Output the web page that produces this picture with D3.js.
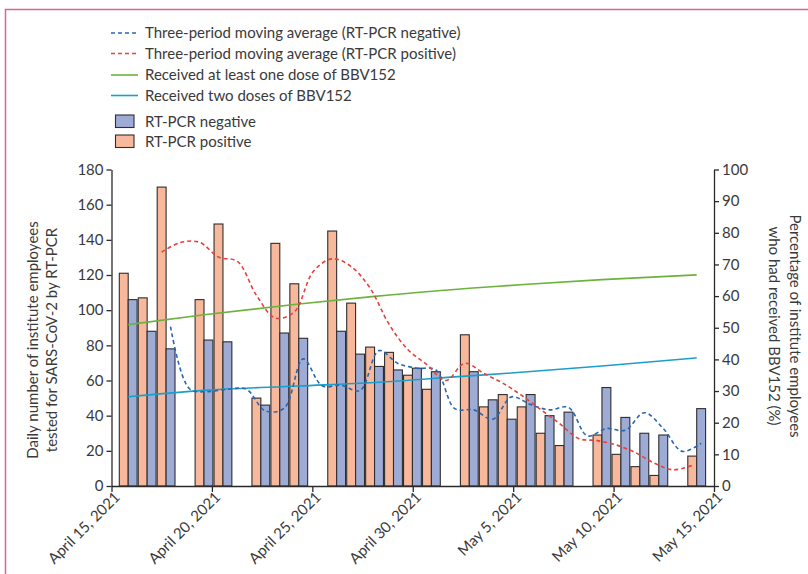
<!DOCTYPE html>
<html><head><meta charset="utf-8">
<script src="https://cdn.jsdelivr.net/npm/d3@7/dist/d3.min.js"></script>
<style>
body{margin:0;background:#fff}
svg text{font-family:Lato,"Open Sans",sans-serif;fill:#3a3a3a}
</style>
</head><body>
<svg id="chart" width="808" height="574"></svg>
<script>
// ---------- data ----------
const dates = ["2021-04-15","2021-04-16","2021-04-17","2021-04-18","2021-04-19","2021-04-20","2021-04-21",
  "2021-04-22","2021-04-23","2021-04-24","2021-04-25","2021-04-26","2021-04-27","2021-04-28","2021-04-29",
  "2021-04-30","2021-05-01","2021-05-02","2021-05-03","2021-05-04","2021-05-05","2021-05-06","2021-05-07",
  "2021-05-08","2021-05-09","2021-05-10","2021-05-11","2021-05-12","2021-05-13","2021-05-14","2021-05-15"];
const negative = [106,88,78,null,83,82,null,46,87,84,null,88,75,68,66,67,65,null,65,49,38,52,40,42,null,56,39,30,29,null,44];
const positive = [121,107,170,null,106,149,null,50,138,115,null,145,104,79,76,63,55,null,86,45,52,45,30,23,null,29,18,11,6,null,17];
// three-period moving averages (from April 17 on)
const maDates = dates.slice(2);
const maNegative = [90.7,55.3,53.7,55,55,42.7,44.3,72.3,57,57.3,54.3,77,69.7,67,66,44,43.3,38,50.7,46.3,43.3,44.7,28.5,32.7,31.7,41.7,32.7,19.7,24.3];
const maPositive = [133,138.5,138.6,130.2,127.7,108.5,95.5,99,122,129.2,124.8,112.5,92,77.5,69,60,69.8,64,58.5,51.5,43.5,35.5,27,25.8,23.3,19,13,9.2,11.8];
// vaccination coverage (%)
const vaxDates = ["2021-04-15","2021-04-19","2021-04-24","2021-04-28","2021-05-03","2021-05-05","2021-05-10","2021-05-15"];
const atLeastOneDose = [51,54.1,57.5,59.9,62.5,63.3,65.2,66.7];
const twoDoses = [28.2,30.2,31.6,32.7,34.8,35.6,37.9,40.5];
const leftTicks = [0,20,40,60,80,100,120,140,160,180];
const rightTicks = [0,10,20,30,40,50,60,70,80,90,100];
const xTickDates = ["2021-04-15","2021-04-20","2021-04-25","2021-04-30","2021-05-05","2021-05-10","2021-05-15"];
const xTickLabels = ["April 15, 2021","April 20, 2021","April 25, 2021","April 30, 2021","May 5, 2021","May 10, 2021","May 15, 2021"];
const legendItems = [
  {label:"Three-period moving average (RT-PCR negative)", type:"dash", color:"#2a66b0"},
  {label:"Three-period moving average (RT-PCR positive)", type:"dash", color:"#e8403a"},
  {label:"Received at least one dose of BBV152", type:"line", color:"#6cb23c"},
  {label:"Received two doses of BBV152", type:"line", color:"#1b9fc9"},
  {label:"RT-PCR negative", type:"box", color:"#9eabd4"},
  {label:"RT-PCR positive", type:"box", color:"#f8b89c"}
];

// ---------- setup ----------
const svg = d3.select("#chart");
const negColor = "#9eabd4", posColor = "#f8b89c", barStroke = "#2e2e2e";
const blueMA = "#2a66b0", redMA = "#e8403a", green = "#6cb23c", cyan = "#1b9fc9";
const axisColor = "#2a2a2a";
const L = 111.5, R = 714, T = 169.5, B = 486;

// frame
svg.append("path").attr("d", `M808,9.5 H5.5 V574`).attr("fill","none").attr("stroke","#d9648c").attr("stroke-width",1.5);

const parse = d3.timeParse("%Y-%m-%d");
const xBar = d3.scalePoint().domain(dates).range([128.2, 696.7]);
const xTime = d3.scaleTime().domain([parse(dates[0]), parse(dates[dates.length-1])]).range([L, R]);
const y = d3.scaleLinear().domain([0,180]).range([B, T]);
const y2 = d3.scaleLinear().domain([0,100]).range([B, T]);
const bw = 8.9;

// bars
const g = svg.append("g");
dates.forEach((d,i)=>{
  if (positive[i] != null) {
    g.append("rect").attr("x", xBar(d)-bw).attr("y", y(positive[i])).attr("width", bw).attr("height", B - y(positive[i]))
      .attr("fill", posColor).attr("stroke", barStroke).attr("stroke-width", 1.1);
  }
  if (negative[i] != null) {
    g.append("rect").attr("x", xBar(d)).attr("y", y(negative[i])).attr("width", bw).attr("height", B - y(negative[i]))
      .attr("fill", negColor).attr("stroke", barStroke).attr("stroke-width", 1.1);
  }
});

// vaccination lines
const vaxLine = (vals) => d3.line().curve(d3.curveMonotoneX)
  .x((d,i)=>xBar(vaxDates[i])).y(d=>y2(d))(vals);
svg.append("path").attr("d", vaxLine(atLeastOneDose)).attr("fill","none").attr("stroke",green).attr("stroke-width",1.6);
svg.append("path").attr("d", vaxLine(twoDoses)).attr("fill","none").attr("stroke",cyan).attr("stroke-width",1.6);

// moving averages
const maLine = (vals, off) => d3.line().curve(d3.curveCatmullRom.alpha(0.5))
  .x((d,i)=>xBar(maDates[i]) + off).y(d=>y(d))(vals);
svg.append("path").attr("d", maLine(maNegative, bw/2)).attr("fill","none").attr("stroke",blueMA)
  .attr("stroke-width",1.6).attr("stroke-dasharray","4,3");
svg.append("path").attr("d", maLine(maPositive, -bw/2)).attr("fill","none").attr("stroke",redMA)
  .attr("stroke-width",1.6).attr("stroke-dasharray","4,3");

// axes
const styleAxis = (sel) => {
  sel.selectAll("path,line").attr("stroke", axisColor).attr("stroke-width", 1.3);
  sel.selectAll("text").style("font-family","Lato,'Open Sans',sans-serif").style("font-size","15px").attr("fill","#3a3a3a");
};
svg.append("g").attr("transform",`translate(${L},0)`)
  .call(d3.axisLeft(y).tickValues(leftTicks).tickSize(5).tickSizeOuter(0).tickPadding(3))
  .call(styleAxis);
svg.append("g").attr("transform",`translate(${R},0)`)
  .call(d3.axisRight(y2).tickValues(rightTicks).tickSize(5).tickSizeOuter(0).tickPadding(3))
  .call(styleAxis);
const xa = svg.append("g").attr("transform",`translate(0,${B})`)
  .call(d3.axisBottom(xTime).tickValues(xTickDates.map(parse)).tickSize(6).tickSizeOuter(0)
    .tickFormat((d,i)=>xTickLabels[i]))
  .call(styleAxis);
xa.selectAll("text").attr("text-anchor","end").attr("dy",null).attr("y",null)
  .attr("transform","translate(9,12) rotate(-45)");

// axis titles
const lt = svg.append("g").attr("transform","translate(0,340) rotate(-90)");
lt.append("text").attr("x",0).attr("y",38).attr("text-anchor","middle").style("font-size","15px").text("Daily number of institute employees");
lt.append("text").attr("x",0).attr("y",57).attr("text-anchor","middle").style("font-size","15px").text("tested for SARS-CoV-2 by RT-PCR");
const rt = svg.append("g").attr("transform","translate(0,326) rotate(90)");
rt.append("text").attr("x",0).attr("y",-790).attr("text-anchor","middle").style("font-size","15px").text("Percentage of institute employees");
rt.append("text").attr("x",0).attr("y",-769).attr("text-anchor","middle").style("font-size","15px").text("who had received BBV152 (%)");

// legend
const legY = [33, 53.5, 75, 95.5, 121.5, 141.5];
legendItems.forEach((it,i)=>{
  const yy = legY[i];
  if (it.type === "box") {
    svg.append("rect").attr("x",115.5).attr("y",yy-6.5).attr("width",18.5).attr("height",12.5)
      .attr("fill",it.color).attr("stroke",barStroke).attr("stroke-width",1.1);
  } else {
    svg.append("line").attr("x1",111).attr("x2",138).attr("y1",yy).attr("y2",yy)
      .attr("stroke",it.color).attr("stroke-width",1.6)
      .attr("stroke-dasharray", it.type==="dash" ? "4,3" : null);
  }
  svg.append("text").attr("x",145).attr("y",yy).attr("dy","0.35em").style("font-size","15px").text(it.label);
});
</script>
</body></html>
